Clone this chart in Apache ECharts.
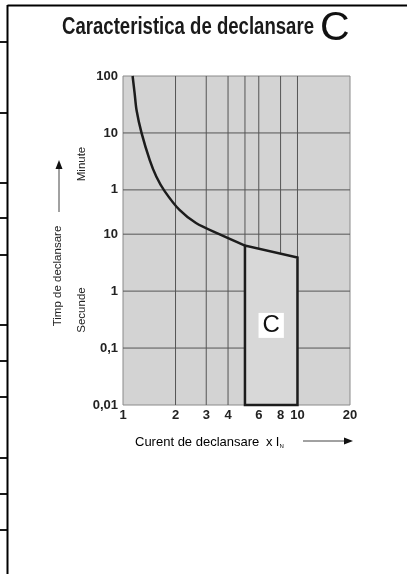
<!DOCTYPE html>
<html>
<head>
<meta charset="utf-8">
<script src="https://cdn.jsdelivr.net/npm/echarts@6/dist/echarts.min.js"></script>
<style>html,body{margin:0;padding:0;background:#fff;}#c{width:407px;height:574px;}</style>
</head>
<body>
<div id="c"></div>
<script>
// ---- data ----
const xTicks = [1, 2, 3, 4, 6, 8, 10, 20];
const xGridLines = [2, 3, 4, 5, 6, 8, 10];
const yTicks = [0.01, 0.1, 1, 10, 60, 600, 6000];
const yTickLabels = ['0,01', '0,1', '1', '10', '1', '10', '100'];
const yGridLines = [0.1, 1, 10, 60, 600];
const curveX = [1.135, 1.166, 1.196, 1.277, 1.423, 1.554, 1.732, 2.108, 2.62, 3.56, 5.0];
const curveY = [6000, 2980, 1500, 600, 200, 102, 57, 26.6, 15.7, 10, 6.3];
const boxX = [5, 5, 10, 10];
const boxY = [0.01, 6.3, 3.9, 0.01];
const boxLabel = 'C';
const boxLabelPos = [7.07, 0.25];

const xMin = 1, xMax = 20, yMin = 0.01, yMax = 6000;
const chart = echarts.init(document.getElementById('c'));
const lineColor = '#1c1c1c';
const gridColor = '#555';
const font = 'Liberation Sans, Arial, sans-serif';
const labelStyle = { color: '#222', fontSize: 13, fontWeight: 'bold', fontFamily: font, opacity: 1 };
const hiddenLine = { color: 'rgba(0,0,0,0)', width: 0, opacity: 0 };

const markData = [];
xTicks.forEach(v => markData.push({ xAxis: v, label: Object.assign({ show: true, position: 'start', distance: 4, formatter: String(v) }, labelStyle), lineStyle: hiddenLine }));
yTicks.forEach((v, i) => markData.push({ yAxis: v, label: Object.assign({ show: true, position: 'start', distance: 5, formatter: yTickLabels[i] }, labelStyle), lineStyle: hiddenLine }));

const gridSeries = [];
xGridLines.forEach(v => gridSeries.push({ type: 'line', z: 1, zlevel: 0, silent: true, showSymbol: false, data: [[v, yMin], [v, yMax]], lineStyle: { color: gridColor, width: 1 } }));
yGridLines.forEach(v => gridSeries.push({ type: 'line', z: 1, zlevel: 0, silent: true, showSymbol: false, data: [[xMin, v], [xMax, v]], lineStyle: { color: gridColor, width: 1 } }));

// title width fit (condensed look)
const titleText = 'Caracteristica de declansare';
const titleFont = 'bold 23px "Liberation Sans", Arial, sans-serif';
const ctx = document.createElement('canvas').getContext('2d');
ctx.font = titleFont;
const titleScale = 252 / ctx.measureText(titleText).width;

chart.setOption({
  animation: false,
  backgroundColor: '#fff',
  grid: { left: 123, top: 76, right: 57, bottom: 169, show: true, backgroundColor: '#d3d3d3', borderColor: '#8a8a8a', borderWidth: 1 },
  xAxis: { type: 'log', logBase: 10, min: xMin, max: xMax, axisLine: { show: false }, axisTick: { show: false }, axisLabel: { show: false }, splitLine: { show: false } },
  yAxis: { type: 'log', logBase: 10, min: yMin, max: yMax, axisLine: { show: false }, axisTick: { show: false }, axisLabel: { show: false }, splitLine: { show: false } },
  series: gridSeries.concat([
    {
      type: 'line', data: [], z: 0, clip: false, silent: true,
      markLine: { silent: true, z: 0, symbol: ['none', 'none'], animation: false, lineStyle: hiddenLine, data: markData }
    },
    {
      type: 'custom', zlevel: 1, z: 5, silent: true, clip: false,
      data: boxX.map((x, i) => [x, boxY[i]]),
      encode: { x: 0, y: 1 },
      renderItem: function (params, api) {
        if (params.dataIndex !== 0) return;
        const pts = boxX.map((x, i) => api.coord([x, boxY[i]]));
        return {
          type: 'polygon', shape: { points: pts },
          style: { fill: '#d8d8d8', stroke: lineColor, lineWidth: 2.5, lineJoin: 'miter' }
        };
      }
    },
    {
      type: 'line', zlevel: 1, z: 6, clip: false, silent: true, smooth: 0.3, showSymbol: false,
      data: curveX.map((x, i) => [x, curveY[i]]),
      lineStyle: { color: lineColor, width: 2.5 },
      markPoint: {
        silent: true, zlevel: 1, z: 7, symbol: 'rect', symbolSize: 0,
        data: [{ coord: boxLabelPos, value: boxLabel }],
        label: { show: true, position: 'inside', formatter: boxLabel, color: '#111', fontSize: 24, fontFamily: font, backgroundColor: '#fff', padding: [1, 4, 0, 4] }
      }
    }
  ]),
  graphic: [
    // table decoration
    { type: 'line', shape: { x1: 7.5, y1: 5.5, x2: 407, y2: 5.5 }, style: { stroke: '#000', lineWidth: 2 } },
    { type: 'line', shape: { x1: 7.5, y1: 5, x2: 7.5, y2: 574 }, style: { stroke: '#000', lineWidth: 2 } },
    ...[42, 113, 183, 218, 255, 325, 361, 397, 458, 494, 530].map(y => ({ type: 'line', shape: { x1: 0, y1: y, x2: 7, y2: y }, style: { stroke: '#000', lineWidth: 1.8 } })),
    // title
    { type: 'text', x: 62, y: 28, scaleX: titleScale, style: { text: titleText, font: titleFont, fill: '#1a1a1a', textAlign: 'left', textVerticalAlign: 'middle' } },
    { type: 'text', x: 320, y: 29, style: { text: 'C', font: '41px ' + font, fill: '#111', textAlign: 'left', textVerticalAlign: 'middle' } },
    // y axis titles
    { type: 'text', x: 58, y: 276, rotation: Math.PI / 2, style: { text: 'Timp de declansare', font: '11.5px ' + font, fill: '#222', textAlign: 'center', textVerticalAlign: 'middle' } },
    { type: 'text', x: 82, y: 164, rotation: Math.PI / 2, style: { text: 'Minute', font: '11.5px ' + font, fill: '#222', textAlign: 'center', textVerticalAlign: 'middle' } },
    { type: 'text', x: 82, y: 310, rotation: Math.PI / 2, style: { text: 'Secunde', font: '11.5px ' + font, fill: '#222', textAlign: 'center', textVerticalAlign: 'middle' } },
    { type: 'line', shape: { x1: 59, y1: 212, x2: 59, y2: 168 }, style: { stroke: '#444', lineWidth: 1 } },
    { type: 'polygon', shape: { points: [[59, 160], [55.5, 169], [62.5, 169]] }, style: { fill: '#111' } },
    // x axis title
    { type: 'text', x: 135, y: 442, style: { text: '{a|Curent de declansare}  {b|x} {b|I}{s|N}', textAlign: 'left', textVerticalAlign: 'middle', rich: { a: { fontSize: 13, fontFamily: font, color: '#222' }, b: { fontSize: 13, fontFamily: font, color: '#222' }, s: { fontSize: 6, fontFamily: font, color: '#222', padding: [8, 0, 0, 0] } } } },
    { type: 'line', shape: { x1: 303, y1: 441, x2: 345, y2: 441 }, style: { stroke: '#444', lineWidth: 1 } },
    { type: 'polygon', shape: { points: [[353, 441], [344, 437.5], [344, 444.5]] }, style: { fill: '#111' } }
  ]
});
</script>
</body>
</html>
